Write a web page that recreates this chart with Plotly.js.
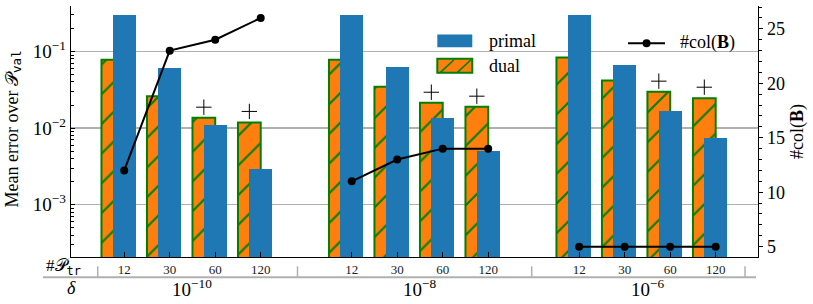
<!DOCTYPE html>
<html><head><meta charset="utf-8">
<script src="https://cdn.plot.ly/plotly-3.0.1.min.js"></script>
<style>body{margin:0;padding:0;background:#fff}#chart{width:813px;height:304px}</style>
</head><body><div id="chart"></div>
<script>
// ---- data ----
const deltaLabels = ['10<sup>−10</sup>', '10<sup>−8</sup>', '10<sup>−6</sup>'];
const trainSizes = ['12', '30', '60', '120'];
const xPos = [0, 1, 2, 3, 5, 6, 7, 8, 10, 11, 12, 13];
const primalErr = [0.304, 0.0618, 0.01106, 0.00295, 0.304, 0.0637, 0.01336, 0.00501, 0.304, 0.0671, 0.0165, 0.0074];
const dualErr = [0.078, 0.0261, 0.01365, 0.01186, 0.078, 0.0347, 0.0214, 0.0190, 0.0835, 0.0419, 0.0298, 0.0246];
const plusIdx = [2, 3, 6, 7, 10, 11];
const plusVal = [0.01875, 0.0165, 0.0294, 0.0261, 0.0410, 0.0342];
const nColB = [12, 23, 24, 26, 11, 13, 14, 14, 5, 5, 5, 5];

// ---- style ----
const FONT = "Liberation Serif, DejaVu Serif, serif";
const MONO = "DejaVu Sans Mono, Liberation Mono, monospace";
const BLUE = '#1f77b4', ORANGE = '#ff7f0e', GREEN = '#008000';
const BW = 0.5;            // bar width
const DUAL_OFF = -0.5;     // dual bar offset
const PRIM_OFF = -0.25;    // primal bar offset

const groupSize = trainSizes.length;
const tickText = xPos.map((_, i) => trainSizes[i % groupSize]);

// line with gaps between groups
const lineX = [], lineY = [];
xPos.forEach((x, i) => {
  lineX.push(x); lineY.push(nColB[i]);
  if (i % groupSize === groupSize - 1) { lineX.push(null); lineY.push(null); }
});

const traces = [
  {
    type: 'bar', name: 'dual', x: xPos, y: dualErr, offset: DUAL_OFF, width: BW,
    marker: {color: ORANGE, line: {color: GREEN, width: 2},
      pattern: {shape: '/', fgcolor: GREEN, bgcolor: ORANGE, size: 21, solidity: 0.1}},
    showlegend: false, hoverinfo: 'skip'
  },
  {
    type: 'bar', name: 'primal', x: xPos, y: primalErr, offset: PRIM_OFF, width: BW,
    marker: {color: BLUE, line: {width: 0}}, showlegend: false, hoverinfo: 'skip'
  },
  {
    type: 'scatter', mode: 'markers', x: plusIdx.map(i => xPos[i] + DUAL_OFF + BW / 2), y: plusVal,
    marker: {symbol: 'cross-thin', size: 11, color: 'black', line: {color: 'black', width: 1}},
    showlegend: false, hoverinfo: 'skip'
  },
  {
    type: 'scatter', mode: 'lines+markers', name: '#col(B)', x: lineX, y: lineY, yaxis: 'y2',
    connectgaps: false, line: {color: 'black', width: 2}, marker: {color: 'black', size: 8},
    showlegend: false, hoverinfo: 'skip'
  }
];

// minor log ticks
const minorLog = [];
for (let k = -4; k <= 0; k++) for (let m = 2; m <= 9; m++) minorLog.push(m * Math.pow(10, k));

const groupCenters = deltaLabels.map((_, g) => {
  const s = xPos.slice(g * groupSize, (g + 1) * groupSize);
  return (s[0] + s[s.length - 1]) / 2;
});

const GRAY = '#b0b0b0';
const shapes = [
  {type: 'line', xref: 'paper', yref: 'paper', x0: -0.0408, x1: 0.9971, y0: -0.081, y1: -0.081, line: {color: GRAY, width: 2}},
];
[0.0389, 0.3297, 0.6706, 0.9811].forEach(x => shapes.push(
  {type: 'line', xref: 'paper', yref: 'paper', x0: x, x1: x, y0: -0.037, y1: -0.081, line: {color: GRAY, width: 1.5}}));
// legend symbols
shapes.push(
  {type: 'rect', xref: 'paper', yref: 'paper', x0: 0.5332, x1: 0.5841, y0: 0.836, y1: 0.8865, fillcolor: BLUE, line: {width: 0}},
  {type: 'rect', xref: 'paper', yref: 'paper', x0: 0.5332, x1: 0.5841, y0: 0.7341, y1: 0.7898, fillcolor: ORANGE, line: {color: GREEN, width: 2}},
  {type: 'line', xref: 'paper', yref: 'paper', x0: 0.5378, x1: 0.5572, y0: 0.7355, y1: 0.7849, line: {color: GREEN, width: 1.6}},
  {type: 'line', xref: 'paper', yref: 'paper', x0: 0.5624, x1: 0.5819, y0: 0.7355, y1: 0.7849, line: {color: GREEN, width: 1.6}},
  {type: 'line', xref: 'paper', yref: 'paper', x0: 0.8108, x1: 0.8646, y0: 0.8519, y1: 0.8519, line: {color: 'black', width: 2}},
  {type: 'circle', xref: 'paper', yref: 'paper', xsizemode: 'pixel', ysizemode: 'pixel', xanchor: 0.8378, yanchor: 0.8519,
   x0: -4, x1: 4, y0: -4, y1: 4, fillcolor: 'black', line: {width: 0}}
);

const annotations = [
  {xref: 'paper', yref: 'paper', x: -0.0837, y: 0.51, textangle: -90, showarrow: false, xanchor: 'center', yanchor: 'middle',
   text: 'Mean error over 𝒫<sub style="font-family:' + MONO + '">val</sub>', font: {size: 18, family: FONT}},
  {xref: 'paper', yref: 'paper', x: 0.0175, y: -0.04, showarrow: false, xanchor: 'right', yanchor: 'middle',
   text: '#𝒫<sub style="font-family:' + MONO + '">tr</sub>', font: {size: 17, family: FONT}},
  {xref: 'paper', yref: 'paper', x: 0, y: -0.124, showarrow: false, xanchor: 'center', yanchor: 'middle',
   text: '<i>δ</i>', font: {size: 18, family: FONT}},
  {xref: 'paper', yref: 'paper', x: 0.6051, y: 0.8587, showarrow: false, xanchor: 'left', yanchor: 'middle', text: 'primal', font: {size: 18, family: FONT}},
  {xref: 'paper', yref: 'paper', x: 0.6051, y: 0.7611, showarrow: false, xanchor: 'left', yanchor: 'middle', text: 'dual', font: {size: 18, family: FONT}},
  {xref: 'paper', yref: 'paper', x: 0.8836, y: 0.8547, showarrow: false, xanchor: 'left', yanchor: 'middle', text: '#col(<b>B</b>)', font: {size: 18, family: FONT}}
];
deltaLabels.forEach((t, g) => annotations.push(
  {xref: 'x', yref: 'paper', x: groupCenters[g], y: -0.122, showarrow: false, xanchor: 'center', yanchor: 'middle', text: t, font: {size: 19, family: FONT}}));

const layout = {
  width: 813, height: 304,
  margin: {l: 71, r: 55, t: 5.5, b: 47.3},
  paper_bgcolor: 'white', plot_bgcolor: 'white',
  font: {family: FONT, color: 'black', size: 17},
  barmode: 'overlay', bargap: 0,
  showlegend: false,
  xaxis: {
    range: [-1.17, 13.93], tickmode: 'array', tickvals: xPos, ticktext: tickText,
    ticks: 'inside', ticklen: 5, tickcolor: 'black', tickwidth: 1,
    showline: true, linecolor: 'black', linewidth: 1.3, showgrid: false, zeroline: false,
    tickfont: {size: 13, color: '#222', family: FONT}, ticklabelstandoff: 0
  },
  yaxis: {
    type: 'log', range: [-3.683, -0.406], tickmode: 'array', tickvals: [0.001, 0.01, 0.1],
    ticktext: ['10<sup>−3</sup>', '10<sup>−2</sup>', '10<sup>−1</sup>'],
    ticks: 'inside', ticklen: 4, tickcolor: 'black', showline: true, linecolor: 'black', linewidth: 1.3,
    showgrid: true, gridcolor: GRAY, gridwidth: 1.3, zeroline: false, tickfont: {size: 19, family: FONT},
    minor: {tickmode: 'array', tickvals: minorLog, ticks: 'inside', ticklen: 2.5, tickcolor: 'black', showgrid: false}
  },
  yaxis2: {
    overlaying: 'y', side: 'right', range: [4.05, 27.1], tickmode: 'array', tickvals: [5, 10, 15, 20, 25],
    ticks: 'outside', ticklen: 4, tickcolor: 'black', showline: true, linecolor: 'black', linewidth: 1.3,
    showgrid: false, zeroline: false, tickfont: {size: 18, family: FONT},
    minor: {dtick: 1, ticks: 'outside', ticklen: 2.5, tickcolor: 'black', showgrid: false},
    title: {text: '#col(<b>B</b>)', font: {size: 18, family: FONT}, standoff: 6}
  },
  shapes: shapes, annotations: annotations
};

Plotly.newPlot('chart', traces, layout, {displayModeBar: false, staticPlot: true});
</script></body></html>
